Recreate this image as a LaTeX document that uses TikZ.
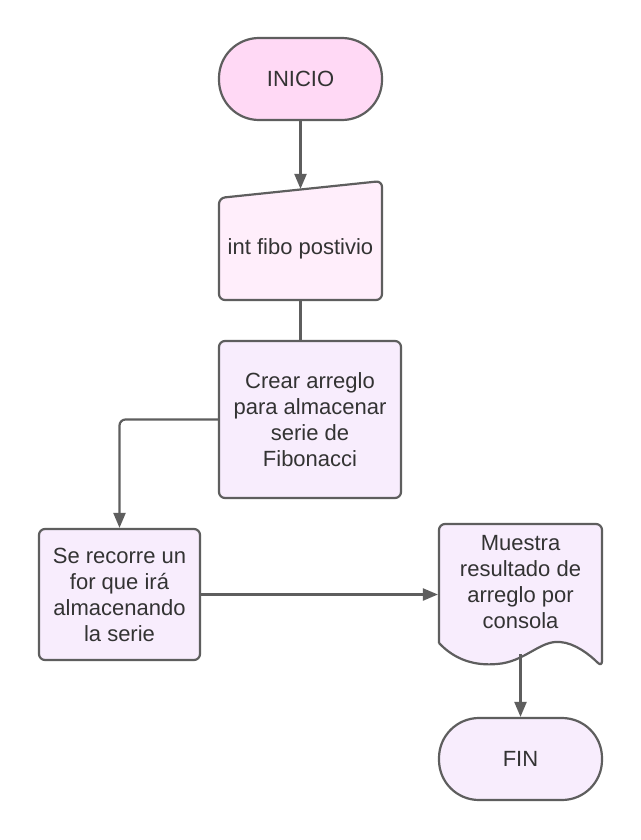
\documentclass[tikz,border=0pt]{standalone}
\usepackage{fontspec}
\setmainfont{Liberation Sans}
\usepackage{xcolor}
\usepackage{tikz}
\usetikzlibrary{arrows.meta,backgrounds}
\definecolor{cLine}{RGB}{94,94,94}
\definecolor{cText}{RGB}{51,51,51}
\definecolor{cInicio}{RGB}{255,217,245}
\definecolor{cEntrada}{RGB}{255,238,251}
\definecolor{cPaso}{RGB}{248,237,253}

\begin{document}
\begin{tikzpicture}[x=1pt, y=-1pt,
  paso/.style={draw=cLine, line width=2.2pt, rounded corners=6pt, fill=cPaso, text=cText,
    align=center, font=\fontsize{22}{26}\selectfont, inner sep=2pt},
  term/.style={paso, rounded corners=40pt, minimum width=163pt, minimum height=82pt},
  libre/.style={paso, draw=none, fill=none},
  linea/.style={draw=cLine, line width=2.2pt},
  flecha/.style={linea, -{Triangle[length=15pt,width=12pt]}}
]
  \node[term, fill=cInicio] (inicio) at (300.5, 79) {INICIO};
  \node[libre, minimum width=163pt, minimum height=102pt] (entrada) at (300.5, 249) {int fibo postivio};
  \node[paso, minimum width=182pt, minimum height=157pt] (crear) at (310, 419.5)
    {Crear arreglo\\para almacenar\\serie de\\Fibonacci};
  \node[paso, minimum width=161pt, minimum height=131pt] (recorre) at (119.5, 594.5)
    {Se recorre un\\for que irá\\almacenando\\la serie};
  \node[libre, minimum width=163pt, minimum height=116pt] (docu) at (520.5, 582)
    {Muestra\\resultado de\\arreglo por\\consola};
  \node[term] (fin) at (520.5, 759) {FIN};
  \coordinate (docfondo) at (520.5, 654);

  \begin{scope}[on background layer]
    \fill[white] (0,0) rectangle (640,840);
    % entrada manual
    \draw[linea, fill=cEntrada, rounded corners=6pt]
      (219,300) -- (219,198) -- (382,181) -- (382,300) -- cycle;
    % documento
    \draw[linea, fill=cPaso, rounded corners=6pt]
      (439,643) -- (439,524) -- (602,524) -- (602,667) [sharp corners]
      .. controls (590,655) and (575,643) .. (560,642)
      .. controls (540,640) and (525,662) .. (497,664)
      .. controls (475,666) and (455,660) .. (439,643);
  \end{scope}

  \draw[flecha] (inicio.south) -- ([yshift=8pt]entrada.north);
  \draw[linea] (entrada.south) -- (entrada.south |- crear.north);
  \draw[flecha, rounded corners=6pt] (crear.west) -| (recorre.north);
  \draw[flecha] (recorre.east) -- (recorre.east -| docu.west);
  \draw[flecha] (docfondo) -- (fin.north);
\end{tikzpicture}
\end{document}
